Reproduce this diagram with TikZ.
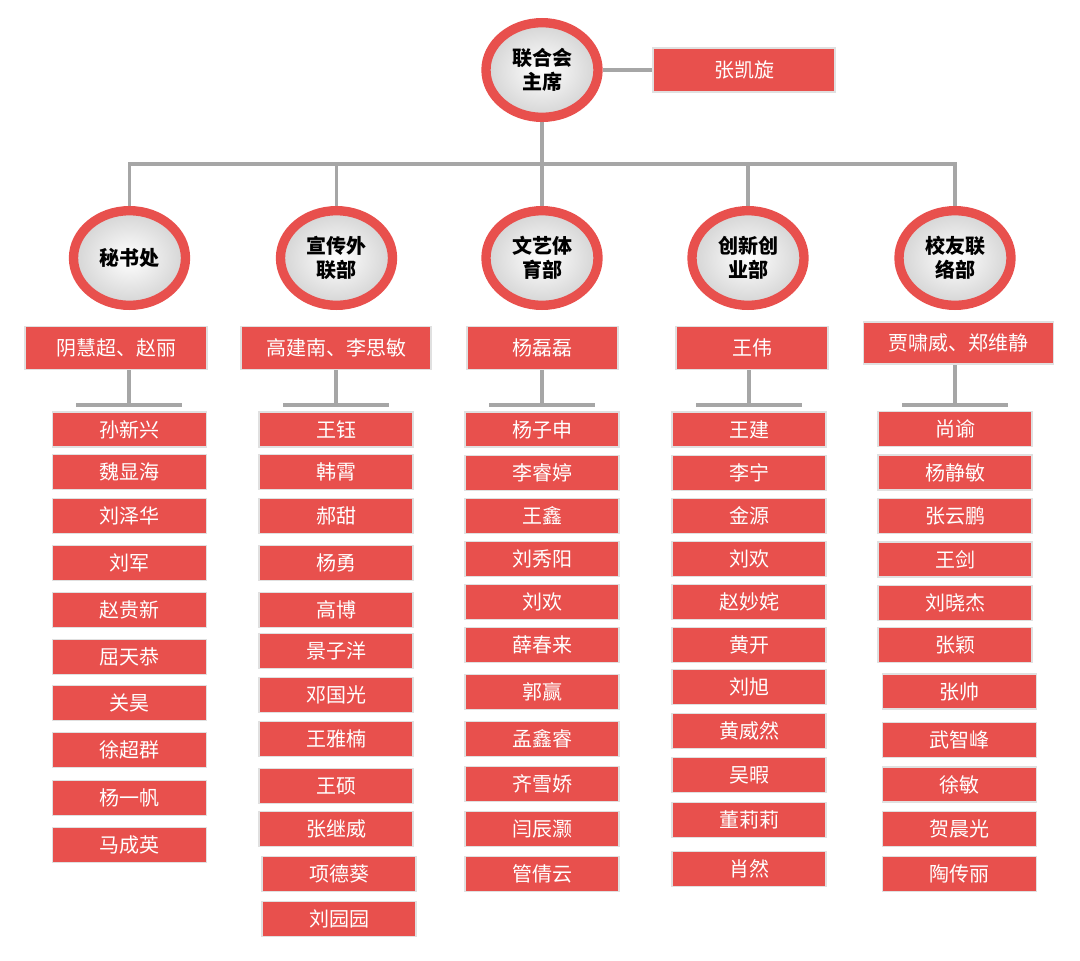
\documentclass[tikz,border=0pt]{standalone}
\usepackage{fontspec}
\setmainfont{Noto Sans CJK SC}
\usetikzlibrary{shapes.geometric,backgrounds}
\definecolor{boxred}{HTML}{E8504D}
\definecolor{linegray}{HTML}{A6A6A6}

\begin{document}
\begin{tikzpicture}[x=0.75pt,y=-0.75pt,
  font=\fontsize{15}{18}\selectfont,
  dept/.style={ellipse,draw=boxred,line width=7pt,inner color=white,outer color=black!17,
    minimum width=84pt,minimum height=71pt,inner sep=0pt,align=center,
    font=\fontsize{15}{18}\selectfont\bfseries},
  namebox/.style={rectangle,fill=boxred,draw=black!12,line width=1.2pt,text=white,
    minimum width=115.5pt,minimum height=26.25pt,inner sep=0pt},
  lead/.style={namebox,minimum height=32.25pt},
  link/.style={draw=linegray,line width=2.5pt}]
\useasboundingbox (0,0) rectangle (1080,960);

% top
\node [dept] (chair) at (542,70) {联合会\\主席};
\node [lead,minimum width=136.5pt,minimum height=33pt] (zkx) at (744,70) {张凯旋};

% departments
\node [dept] (d1) at (129.5,258) {秘书处};
\node [dept] (d2) at (336.5,258) {宣传外\\联部};
\node [dept] (d3) at (542,258) {文艺体\\育部};
\node [dept] (d4) at (748,258) {创新创\\业部};
\node [dept] (d5) at (955,258) {校友联\\络部};

% heads
\node [lead,minimum width=136.5pt] (l1) at (116,348) {阴慧超、赵丽};
\node [lead,minimum width=142.5pt] (l2) at (336,348) {高建南、李思敏};
\node [lead,minimum width=113.25pt] (l3) at (542.5,348) {杨磊磊};
\node [lead,minimum width=114pt] (l4) at (752,348) {王伟};
\node [lead,minimum width=142.5pt,minimum height=31.5pt] (l5) at (958.5,343) {贾啸威、郑维静};

\coordinate (b1) at (129,405);
\coordinate (b2) at (336,405);
\coordinate (b3) at (542,405);
\coordinate (b4) at (749,405);
\coordinate (b5) at (955,405);

% members
\node [namebox] (c1m1) at (129.5,429.5) {孙新兴};
\node [namebox] (c1m2) at (129.5,472) {魏显海};
\node [namebox] (c1m3) at (129.5,516) {刘泽华};
\node [namebox] (c1m4) at (129.5,563) {刘军};
\node [namebox] (c1m5) at (129.5,610) {赵贵新};
\node [namebox] (c1m6) at (129.5,657) {屈天恭};
\node [namebox] (c1m7) at (129.5,703) {关昊};
\node [namebox] (c1m8) at (129.5,750) {徐超群};
\node [namebox] (c1m9) at (129.5,798) {杨一帆};
\node [namebox] (c1m10) at (129.5,845) {马成英};

\node [namebox] (c2m1) at (336,429.5) {王钰};
\node [namebox] (c2m2) at (336,472) {韩霄};
\node [namebox] (c2m3) at (336,516) {郝甜};
\node [namebox] (c2m4) at (336,563) {杨勇};
\node [namebox] (c2m5) at (336,610) {高博};
\node [namebox] (c2m6) at (336,651) {景子洋};
\node [namebox] (c2m7) at (336,695) {邓国光};
\node [namebox] (c2m8) at (336,739) {王雅楠};
\node [namebox] (c2m9) at (336,786) {王硕};
\node [namebox] (c2m10) at (336,829) {张继威};
\node [namebox] (c2m11) at (339,874) {项德葵};
\node [namebox] (c2m12) at (339,919) {刘园园};

\node [namebox] (c3m1) at (542,429.5) {杨子申};
\node [namebox] (c3m2) at (542,473) {李睿婷};
\node [namebox] (c3m3) at (542,516) {王鑫};
\node [namebox] (c3m4) at (542,559) {刘秀阳};
\node [namebox] (c3m5) at (542,602) {刘欢};
\node [namebox] (c3m6) at (542,645) {薛春来};
\node [namebox] (c3m7) at (542,692) {郭赢};
\node [namebox] (c3m8) at (542,739) {孟鑫睿};
\node [namebox] (c3m9) at (542,784) {齐雪娇};
\node [namebox] (c3m10) at (542,829) {闫辰灏};
\node [namebox] (c3m11) at (542,874) {管倩云};

\node [namebox] (c4m1) at (749,429.5) {王建};
\node [namebox] (c4m2) at (749,473) {李宁};
\node [namebox] (c4m3) at (749,516) {金源};
\node [namebox] (c4m4) at (749,559) {刘欢};
\node [namebox] (c4m5) at (749,602) {赵妙姹};
\node [namebox] (c4m6) at (749,645) {黄开};
\node [namebox] (c4m7) at (749,687) {刘旭};
\node [namebox] (c4m8) at (749,731) {黄威然};
\node [namebox] (c4m9) at (749,775) {吴暇};
\node [namebox] (c4m10) at (749,820) {董莉莉};
\node [namebox] (c4m11) at (749,869) {肖然};

\node [namebox] (c5m1) at (955,429) {尚谕};
\node [namebox] (c5m2) at (955,472.5) {杨静敏};
\node [namebox] (c5m3) at (955,516) {张云鹏};
\node [namebox] (c5m4) at (955,559.5) {王剑};
\node [namebox] (c5m5) at (955,603) {刘晓杰};
\node [namebox] (c5m6) at (955,645) {张颖};
\node [namebox] (c5m7) at (959.5,691.5) {张帅};
\node [namebox] (c5m8) at (959.5,740) {武智峰};
\node [namebox] (c5m9) at (959.5,784.5) {徐敏};
\node [namebox] (c5m10) at (959.5,829) {贺晨光};
\node [namebox] (c5m11) at (959.5,874) {陶传丽};

% connectors
\begin{scope}[on background layer]
\coordinate (hub) at (542,164);
\draw [link] (chair) -- (zkx);
\draw [link] (chair) -- (hub);
\draw [link] (d1) |- (hub) -| (d5);
\draw [link] (d2) -- (d2 |- hub);
\draw [link] (d3) -- (hub);
\draw [link] (d4) -- (d4 |- hub);
\draw [link] (l1 -| b1) -- (b1) ++(-53,0) -- ++(106,0);
\draw [link] (l2 -| b2) -- (b2) ++(-53,0) -- ++(106,0);
\draw [link] (l3 -| b3) -- (b3) ++(-53,0) -- ++(106,0);
\draw [link] (l4 -| b4) -- (b4) ++(-53,0) -- ++(106,0);
\draw [link] (l5 -| b5) -- (b5) ++(-53,0) -- ++(106,0);
\end{scope}
\end{tikzpicture}
\end{document}
